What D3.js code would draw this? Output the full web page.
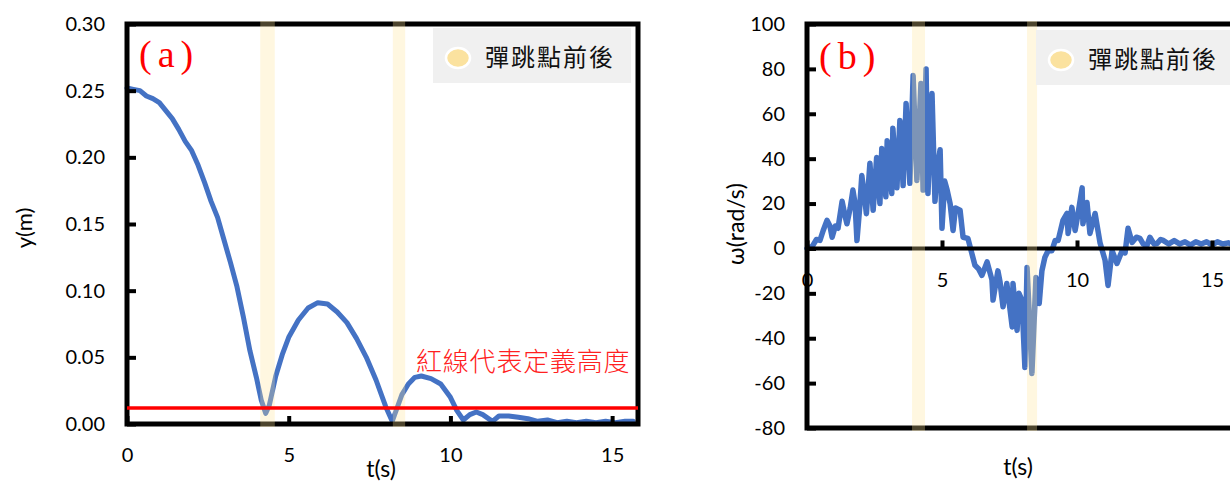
<!DOCTYPE html>
<html><head><meta charset="utf-8">
<script src="https://cdn.jsdelivr.net/npm/d3@7"></script>
<style>
html,body{margin:0;padding:0;background:#fff;}
svg{display:block;}
.tick text{font-family:Lato,"Liberation Sans",sans-serif;font-size:20px;fill:#000;}
</style></head>
<body><svg id="c" width="1230" height="482"></svg>
<script>
// ---- Data (a): height y(m) vs t(s)
const tA = [0,0.2,0.4,0.6,0.8,1.0,1.2,1.4,1.6,1.8,2.0,2.2,2.4,2.6,2.8,3.0,3.2,3.4,3.6,3.8,4.0,4.15,4.29,4.4,4.6,4.8,5.0,5.3,5.6,5.9,6.2,6.5,6.8,7.1,7.4,7.7,8.0,8.2,8.35,8.5,8.7,8.9,9.1,9.4,9.7,10.0,10.2,10.4,10.6,10.8,11.0,11.3,11.5,11.8,12.1,12.4,12.7,13.0,13.3,13.6,13.9,14.2,14.5,14.8,15.1,15.4,15.65];
const yA = [0.252,0.251,0.250,0.246,0.244,0.241,0.235,0.229,0.221,0.212,0.205,0.194,0.181,0.167,0.155,0.138,0.121,0.103,0.080,0.055,0.035,0.018,0.008,0.014,0.036,0.052,0.065,0.078,0.087,0.091,0.090,0.084,0.076,0.064,0.050,0.033,0.013,0.002,0.012,0.022,0.030,0.035,0.036,0.034,0.030,0.020,0.010,0.003,0.007,0.009,0.007,0.002,0.006,0.006,0.005,0.004,0.002,0.003,0.001,0.002,0.001,0.002,0.001,0.002,0.001,0.002,0.002];
const threshA = 0.012;
// ---- Data (b): omega (rad/s) vs t(s)
const tB = [0,0.2,0.35,0.48,0.6,0.74,0.85,0.93,1.05,1.15,1.3,1.4,1.48,1.6,1.7,1.78,1.85,1.95,2.03,2.12,2.2,2.33,2.45,2.58,2.7,2.77,2.92,2.97,3.14,3.18,3.33,3.44,3.56,3.67,3.81,3.93,4.07,4.22,4.3,4.41,4.48,4.63,4.74,4.83,4.93,5.0,5.1,5.19,5.3,5.41,5.5,5.67,5.78,5.96,6.1,6.22,6.35,6.48,6.67,6.85,6.89,7.07,7.15,7.26,7.4,7.6,7.63,7.78,7.85,7.96,8.07,8.15,8.33,8.48,8.6,8.7,8.81,8.93,9.07,9.19,9.3,9.48,9.63,9.67,9.81,9.93,10.04,10.19,10.22,10.37,10.48,10.67,10.85,11.04,11.15,11.3,11.48,11.67,11.78,11.89,12.04,12.2,12.33,12.45,12.59,12.7,12.85,12.96,13.1,13.19,13.4,13.6,13.8,14.0,14.2,14.4,14.6,14.8,15.0,15.2,15.4,15.6,15.8,16.0];
const wB = [0,1,4,3.6,8,12.5,10,5,10,9,21,15,11,18,26,20,3.5,18,32.5,24,15.5,38,17,40.5,20,44.5,23,48,24.5,53.5,27,57,28,64.6,29,77,30.3,73.5,26,80,24.5,69,21,36,44,9,30,26,20,8,18,17,5,4.5,-2,-7.5,-9,-12,-6,-14,-23,-10,-15,-26,-15.6,-35,-15.6,-36.5,-20,-23,-53,-8.5,-55.7,-13,-24.5,-10,-4,-1,-1,3.5,3.5,12.5,15.6,6.7,18.3,8,15.6,27,11,20.5,6.7,15.6,2.7,-5.3,-16.5,-1,-6.7,-1,-2,9,2.7,5,4.5,2,1.3,5,2,2.2,4,3.6,2,3.5,2,3,1.5,3,2,3,1.5,3,2,2.5,1.5,2];
// ---- Bands (bounce points) and tick labels
const bandsA = [[4.12,4.57],[8.22,8.6]];
const bandsB = [[3.89,4.37],[8.15,8.52]];
const xTicks = [0,5,10,15];
const yTicksA = [0,0.05,0.10,0.15,0.20,0.25,0.30];
const yTicksB = [-80,-60,-40,-20,0,20,40,60,80,100];
const legendText = "彈跳點前後";
const noteText = "紅線代表定義高度";
const panelLabels = ["(a)","(b)"];
const axisTitles = {xA:"t(s)", yA:"y(m)", xB:"t(s)", yB:"ω(rad/s)"};

const svg = d3.select("#c");
const BLUE = "#4472C4";
const BANDFILL = "#FFE699";

function panel(opt){
  const g = svg.append("g");
  const x = d3.scaleLinear().domain(opt.xd).range(opt.xr);
  const y = d3.scaleLinear().domain(opt.yd).range(opt.yr);
  // data line
  g.append("path").datum(opt.t.map((v,i)=>[v,opt.v[i]]))
    .attr("d", d3.line().x(d=>x(d[0])).y(d=>y(d[1])))
    .attr("fill","none").attr("stroke",BLUE).attr("stroke-width",opt.lw)
    .attr("stroke-linejoin","round").attr("stroke-linecap","round");
  // y axis
  const ya = g.append("g").attr("transform",`translate(${opt.xr[0]},0)`)
    .call(d3.axisLeft(y).tickValues(opt.yt).tickFormat(opt.yf).tickSize(-9).tickSizeOuter(0).tickPadding(22));
  ya.select(".domain").remove();
  ya.selectAll(".tick line").attr("stroke","#000").attr("stroke-width",4);
  // x axis at y=0 line
  const xa = g.append("g").attr("transform",`translate(0,${y(0)})`)
    .call(d3.axisBottom(x).tickValues(xTicks).tickFormat(d=>String(d)).tickSize(-8).tickSizeOuter(0).tickPadding(opt.xpad));
  xa.select(".domain").remove();
  xa.selectAll(".tick line").attr("stroke","#000").attr("stroke-width",4);
  // frame
  const x0=opt.xr[0], x1=opt.xr[1], y0=opt.yr[1], y1=opt.yr[0];
  g.append("rect").attr("x",x0).attr("y",y0).attr("width",x1-x0).attr("height",y1-y0)
    .attr("fill","none").attr("stroke","#000").attr("stroke-width",5);
  if (opt.yd[0] < 0) {
    g.append("line").attr("x1",x0).attr("x2",x1).attr("y1",y(0)).attr("y2",y(0))
      .attr("stroke","#000").attr("stroke-width",4);
  }
  // bands
  g.selectAll("rect.band").data(opt.bands).enter().append("rect").attr("class","band")
    .attr("x",d=>x(d[0])).attr("width",d=>x(d[1])-x(d[0]))
    .attr("y",y0-3).attr("height",y1-y0+6)
    .attr("fill",BANDFILL).attr("fill-opacity",0.3);
  // legend
  const lg = g.append("g");
  lg.append("rect").attr("x",opt.lx).attr("y",opt.ly).attr("width",opt.lw2).attr("height",55).attr("fill","#F0F0F0");
  lg.append("ellipse").attr("cx",opt.lx+25).attr("cy",opt.ly+30).attr("rx",12).attr("ry",10)
    .attr("fill","#FBE29F").attr("stroke","#fff").attr("stroke-width",2.5);
  lg.append("text").attr("x",opt.lx+52).attr("y",opt.ly+38).text(legendText)
    .attr("font-family","'Noto Sans CJK TC','Noto Sans CJK SC',sans-serif").attr("font-size",24)
    .attr("letter-spacing",2).attr("fill","#111");
  // panel label
  g.append("text").attr("x",opt.px).attr("y",opt.py).text(opt.plabel)
    .attr("font-family","'Liberation Serif','DejaVu Serif',serif").attr("font-size",38)
    .attr("letter-spacing",6).attr("fill","#FF0000");
  // axis titles
  g.append("text").attr("x",opt.xtx).attr("y",opt.xty).attr("text-anchor","middle").text(opt.xtitle)
    .attr("font-family","Lato,sans-serif").attr("font-size",23);
  g.append("text").attr("transform",`translate(${opt.ytx},${opt.yty}) rotate(-90)`).attr("text-anchor","middle").text(opt.ytitle)
    .attr("font-family","Lato,'DejaVu Sans',sans-serif").attr("font-size",opt.yfs);
  return {g,x,y};
}

const A = panel({t:tA,v:yA,xd:[0,15.8],xr:[127,638],yd:[0,0.3],yr:[424,24],lw:5,
  yt:yTicksA,yf:d3.format(".2f"),xpad:24,bands:bandsA,lx:433,ly:28,lw2:198,
  px:139,py:67,plabel:panelLabels[0],xtx:381,xty:477,xtitle:axisTitles.xA,ytx:32,yty:228,ytitle:axisTitles.yA,yfs:22});
// threshold red line + note
A.g.append("line").attr("x1",A.x(0)).attr("x2",A.x(15.8)).attr("y1",A.y(threshA)).attr("y2",A.y(threshA))
  .attr("stroke","#FF0000").attr("stroke-width",3.5);
A.g.append("text").attr("x",416).attr("y",371).text(noteText)
  .attr("font-family","'Noto Sans CJK TC',sans-serif").attr("font-size",26).attr("font-weight",300)
  .attr("letter-spacing",0.8).attr("fill","#FF2020");

const B = panel({t:tB,v:wB,xd:[0,16],xr:[807,1239],yd:[-80,100],yr:[428,24],lw:5.5,
  yt:yTicksB,yf:d=>String(d),xpad:24,bands:bandsB,lx:1036,ly:30,lw2:230,
  px:819,py:69,plabel:panelLabels[1],xtx:1018,xty:475,xtitle:axisTitles.xB,ytx:744,yty:224,ytitle:axisTitles.yB,yfs:23});
</script></body></html>
